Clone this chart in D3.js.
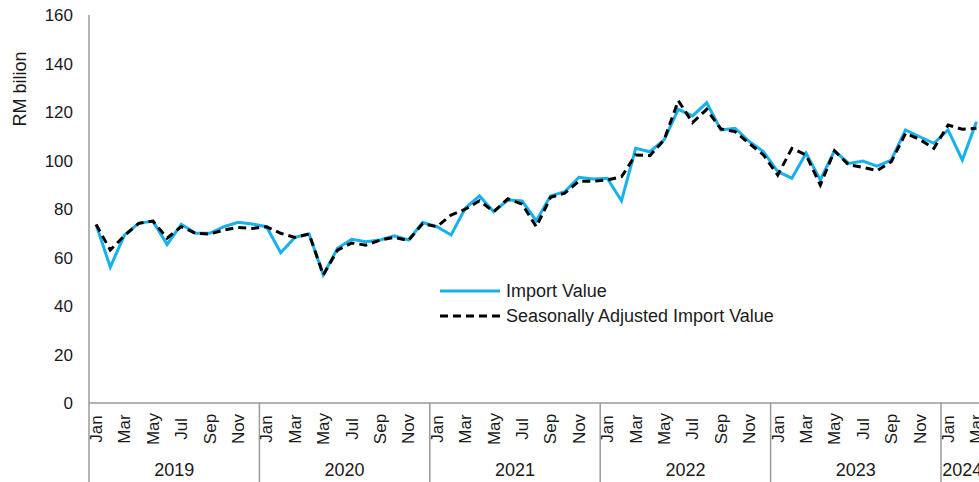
<!DOCTYPE html>
<html>
<head>
<meta charset="utf-8">
<script src="https://cdn.jsdelivr.net/npm/d3@7"></script>
<style>
  body { margin: 0; background: #fff; }
  text { font-family: "Liberation Sans", Arial, sans-serif; fill: #1a1a1a; }
</style>
</head>
<body>
<div class="canva"></div>
<script>
const years = ['2019', '2020', '2021', '2022', '2023', '2024'];
const monthNames = ['Jan', 'Feb', 'Mar', 'Apr', 'May', 'Jun', 'Jul', 'Aug', 'Sep', 'Oct', 'Nov', 'Dec'];
const monthsPerYear = [12, 12, 12, 12, 12, 3];

const importValue = [
  73.6, 56.0, 69.3, 74.1, 75.0, 65.4, 73.7, 70.0, 70.0, 72.7, 74.5, 73.8,
  72.7, 62.0, 68.3, 69.7, 52.8, 63.8, 67.5, 66.5, 67.2, 68.9, 67.2, 74.4,
  72.7, 69.3, 80.3, 85.4, 78.9, 83.7, 83.3, 75.2, 85.4, 87.1, 93.1, 92.4,
  92.7, 83.4, 105.0, 103.6, 108.5, 121.1, 118.4, 123.8, 112.6, 113.3, 107.8, 103.6,
  95.4, 92.7, 103.0, 92.0, 104.0, 98.8, 99.8, 97.7, 100.2, 112.6, 109.8, 107.1,
  112.6, 100.2, 116.0
];

const adjustedValue = [
  73.6, 63.1, 69.0, 74.1, 75.0, 68.0, 72.7, 70.0, 69.7, 71.3, 72.4, 72.0,
  72.7, 70.0, 68.3, 69.7, 52.8, 63.0, 66.0, 65.1, 67.2, 68.3, 67.0, 74.0,
  72.7, 77.5, 79.9, 83.4, 78.9, 84.2, 82.0, 72.7, 84.8, 86.5, 91.5, 91.4,
  92.0, 93.3, 102.3, 102.0, 108.5, 124.7, 115.6, 121.1, 113.0, 111.9, 107.0, 102.3,
  94.0, 105.0, 102.3, 89.9, 104.0, 98.2, 97.2, 95.8, 99.5, 111.2, 108.7, 105.0,
  114.6, 112.9, 113.3
];

const yTicks = [0, 20, 40, 60, 80, 100, 120, 140, 160];

// one entry per month, keyed "2019-0" etc
const months = [];
years.forEach((yr, yi) => {
  for (let m = 0; m < monthsPerYear[yi]; m++) {
    months.push({ key: yr + '-' + m, year: yr, name: monthNames[m], m: m });
  }
});

const width = 979, height = 482;
const plotLeft = 89, plotTop = 15, axisY = 403, bandW = 14.2;

const svg = d3.select('.canva').append('svg')
  .attr('width', width)
  .attr('height', height);

const x = d3.scaleBand()
  .domain(months.map(d => d.key))
  .range([plotLeft, plotLeft + months.length * bandW])
  .padding(0);

const y = d3.scaleLinear()
  .domain([0, 160])
  .range([axisY, plotTop]);

const cx = i => x(months[i].key) + x.bandwidth() / 2;

// y axis labels (no tick marks in the original)
svg.append('g').selectAll('text')
  .data(yTicks)
  .enter().append('text')
  .attr('x', 73)
  .attr('y', d => y(d))
  .attr('dy', '0.36em')
  .attr('text-anchor', 'end')
  .style('font-size', '17px')
  .text(d => d);

svg.append('text')
  .attr('transform', 'translate(20, 89) rotate(-90)')
  .attr('text-anchor', 'middle')
  .attr('dy', '0.35em')
  .style('font-size', '18px')
  .text('RM bilion');

// axis lines
const axisColor = '#9a9a9a';
svg.append('line')
  .attr('x1', plotLeft).attr('x2', plotLeft)
  .attr('y1', plotTop).attr('y2', height)
  .attr('stroke', axisColor).attr('stroke-width', 1.5);
svg.append('line')
  .attr('x1', plotLeft).attr('x2', width)
  .attr('y1', axisY).attr('y2', axisY)
  .attr('stroke', axisColor).attr('stroke-width', 1.5);

// year separators and labels
const yearStarts = months.filter(d => d.m === 0);
svg.append('g').selectAll('line')
  .data(yearStarts.slice(1))
  .enter().append('line')
  .attr('x1', d => x(d.key)).attr('x2', d => x(d.key))
  .attr('y1', axisY).attr('y2', height)
  .attr('stroke', axisColor).attr('stroke-width', 1.5);

svg.append('g').selectAll('text')
  .data(years)
  .enter().append('text')
  .attr('x', (d, i) => {
    const first = months.findIndex(mm => mm.year === d);
    return x(months[first].key) + monthsPerYear[i] * x.bandwidth() / 2;
  })
  .attr('y', 470)
  .attr('dy', '0.35em')
  .attr('text-anchor', 'middle')
  .style('font-size', '18px')
  .text(d => d);

// month labels, every second month
svg.append('g').selectAll('text')
  .data(months.filter(d => d.m % 2 === 0))
  .enter().append('text')
  .attr('transform', d => `translate(${x(d.key) + x.bandwidth() / 2}, 429) rotate(-90)`)
  .attr('text-anchor', 'middle')
  .attr('dy', '0.35em')
  .style('font-size', '17px')
  .text(d => d.name);

// lines
const line = d3.line()
  .x((d, i) => cx(i))
  .y(d => y(d));

svg.append('path')
  .datum(importValue)
  .attr('d', line)
  .attr('fill', 'none')
  .attr('stroke', '#17b1ec')
  .attr('stroke-width', 3)
  .attr('stroke-linejoin', 'miter');

svg.append('path')
  .datum(adjustedValue)
  .attr('d', line)
  .attr('fill', 'none')
  .attr('stroke', '#000')
  .attr('stroke-width', 3)
  .attr('stroke-dasharray', '8,5');

// legend
const legend = svg.append('g');
const legendItems = [
  { label: 'Import Value', color: '#17b1ec', dash: null, y: 291 },
  { label: 'Seasonally Adjusted Import Value', color: '#000', dash: '8,5', y: 316 }
];
legendItems.forEach(item => {
  legend.append('line')
    .attr('x1', 440).attr('x2', 500)
    .attr('y1', item.y).attr('y2', item.y)
    .attr('stroke', item.color)
    .attr('stroke-width', 3)
    .attr('stroke-dasharray', item.dash);
  legend.append('text')
    .attr('x', 506)
    .attr('y', item.y)
    .attr('dy', '0.35em')
    .style('font-size', '18px')
    .text(item.label);
});
</script>
</body>
</html>
